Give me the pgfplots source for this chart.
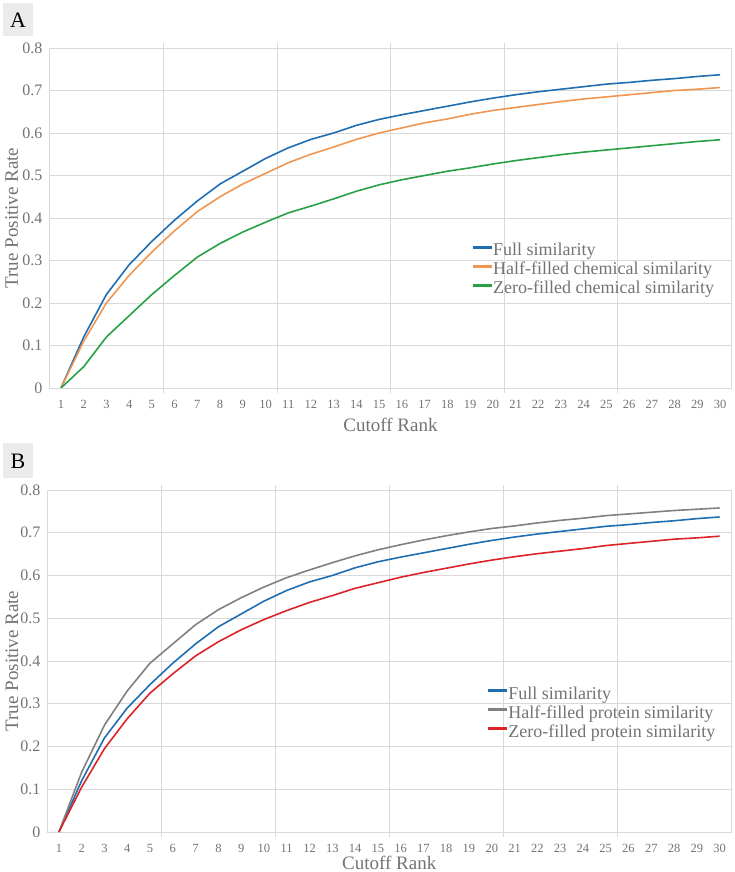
\documentclass[border=0pt]{standalone}
\usepackage{pgfplots}
\pgfplotsset{compat=1.18}
\usepackage{pgfplotstable}
\usepackage{fontspec}
\setmainfont{Liberation Serif}

\definecolor{gridgray}{RGB}{217,217,217}
\definecolor{labgray}{RGB}{115,115,115}
\definecolor{boxgray}{RGB}{235,235,235}
\definecolor{cblue}{RGB}{31,110,178}
\definecolor{corange}{RGB}{240,150,80}
\definecolor{cgreen}{RGB}{40,160,70}
\definecolor{cgrey}{RGB}{128,128,128}
\definecolor{cred}{RGB}{220,35,40}

% rank, full, half chem, zero chem, half protein, zero protein
\pgfplotstableread{
rank full hchem zchem hprot zprot
1  0.000 0.000 0.000 0.000 0.000
2  0.120 0.110 0.050 0.140 0.105
3  0.220 0.200 0.120 0.250 0.195
4  0.290 0.265 0.170 0.330 0.265
5  0.345 0.320 0.220 0.395 0.325
6  0.395 0.370 0.265 0.440 0.370
7  0.440 0.415 0.308 0.485 0.412
8  0.480 0.450 0.340 0.520 0.445
9  0.510 0.480 0.367 0.548 0.473
10 0.540 0.505 0.390 0.573 0.497
11 0.565 0.530 0.412 0.595 0.518
12 0.585 0.550 0.428 0.613 0.537
13 0.600 0.567 0.445 0.630 0.553
14 0.618 0.585 0.463 0.646 0.570
15 0.632 0.600 0.478 0.660 0.583
16 0.643 0.612 0.490 0.672 0.596
17 0.653 0.624 0.500 0.683 0.607
18 0.663 0.633 0.510 0.693 0.617
19 0.673 0.644 0.518 0.702 0.627
20 0.682 0.653 0.527 0.710 0.636
21 0.690 0.660 0.535 0.716 0.644
22 0.697 0.667 0.542 0.723 0.651
23 0.703 0.674 0.549 0.729 0.657
24 0.709 0.680 0.555 0.734 0.663
25 0.715 0.685 0.560 0.740 0.670
26 0.719 0.690 0.565 0.744 0.675
27 0.724 0.695 0.570 0.748 0.680
28 0.728 0.700 0.575 0.752 0.685
29 0.733 0.703 0.580 0.755 0.688
30 0.737 0.707 0.584 0.758 0.692
}\tprdata

\newcommand{\legtext}[1]{\textcolor{labgray}{#1}}
% legend key: a short thick bar in the given colour
\newcommand{\legbar}[1]{\addlegendimage{legend image code/.code={\fill[#1] (0pt,3.2pt) rectangle (18pt,5pt);}}}

\pgfplotsset{
  tprstyle/.style={
    scale only axis,
    xmin=0.5, xmax=30.5, ymin=0, ymax=0.8,
    axis line style={gridgray},
    xtick={1,...,30},
    major tick length=0pt,
    ytick={0,0.1,...,0.8},
    yticklabels={0,0.1,0.2,0.3,0.4,0.5,0.6,0.7,0.8},
    ymajorgrids,
    grid style={gridgray, line width=0.6pt},
    extra x ticks={5.5,10.5,15.5,20.5,25.5},
    extra x tick labels={},
    extra x tick style={grid=major, major tick length=5pt, tick align=outside, tick style={gridgray, line width=0.6pt}},
    /pgf/number format/assume math mode=true,
    xticklabel style={font=\fontsize{12.5}{12.5}\selectfont, text=labgray, anchor=center, yshift=-16pt},
    yticklabel style={font=\fontsize{16}{16}\selectfont, text=labgray, anchor=east, inner sep=0pt, xshift=-7pt},
    xlabel style={font=\fontsize{19}{19}\selectfont, text=labgray, at={(axis description cs:0.5,0)}, anchor=center},
    ylabel style={font=\fontsize{19}{19}\selectfont, text=labgray, anchor=center},
    xlabel={Cutoff Rank},
    ylabel={True Positive Rate},
    legend cell align=left,
    legend style={draw=none, fill=none, inner sep=0pt, anchor=north west,
      font=\fontsize{18}{18}\selectfont,
      nodes={inner sep=1pt, text height=13pt, text depth=4pt}},
    every axis plot/.append style={line width=1.6pt, mark=none},
  }
}

\begin{document}
\begin{tikzpicture}
\path[use as bounding box] (0pt,0pt) rectangle (734pt,872pt);

% panel labels
\fill[boxgray] (3pt,836pt) rectangle (33pt,869pt);
\node[font=\fontsize{22}{22}\selectfont] at (18pt,852pt) {A};
\fill[boxgray] (3pt,394pt) rectangle (33pt,429pt);
\node[font=\fontsize{22}{22}\selectfont] at (18pt,411pt) {B};

\begin{axis}[tprstyle,
  at={(49.6pt,484pt)}, anchor=south west,
  width=681.8pt, height=340pt,
  xlabel style={yshift=-37pt},
  ylabel style={at={(axis description cs:-0.0557,0.5)}},
  legend style={at={(0.62,0.43)}}]
\legbar{cblue}
\addlegendentry{\legtext{Full similarity}}
\legbar{corange}
\addlegendentry{\legtext{Half-filled chemical similarity}}
\legbar{cgreen}
\addlegendentry{\legtext{Zero-filled chemical similarity}}
\addplot[cblue, forget plot] table[x=rank, y=full] {\tprdata};
\addplot[corange, forget plot] table[x=rank, y=hchem] {\tprdata};
\addplot[cgreen, forget plot] table[x=rank, y=zchem] {\tprdata};
\end{axis}

\begin{axis}[tprstyle,
  at={(47.5pt,40pt)}, anchor=south west,
  width=683.5pt, height=342pt,
  xlabel style={yshift=-31pt},
  ylabel style={at={(axis description cs:-0.052,0.5)}},
  legend style={at={(0.644,0.43)}}]
\legbar{cblue}
\addlegendentry{\legtext{Full similarity}}
\legbar{cgrey}
\addlegendentry{\legtext{Half-filled protein similarity}}
\legbar{cred}
\addlegendentry{\legtext{Zero-filled protein similarity}}
\addplot[cblue, forget plot] table[x=rank, y=full] {\tprdata};
\addplot[cgrey, forget plot] table[x=rank, y=hprot] {\tprdata};
\addplot[cred, forget plot] table[x=rank, y=zprot] {\tprdata};
\end{axis}
\end{tikzpicture}
\end{document}
